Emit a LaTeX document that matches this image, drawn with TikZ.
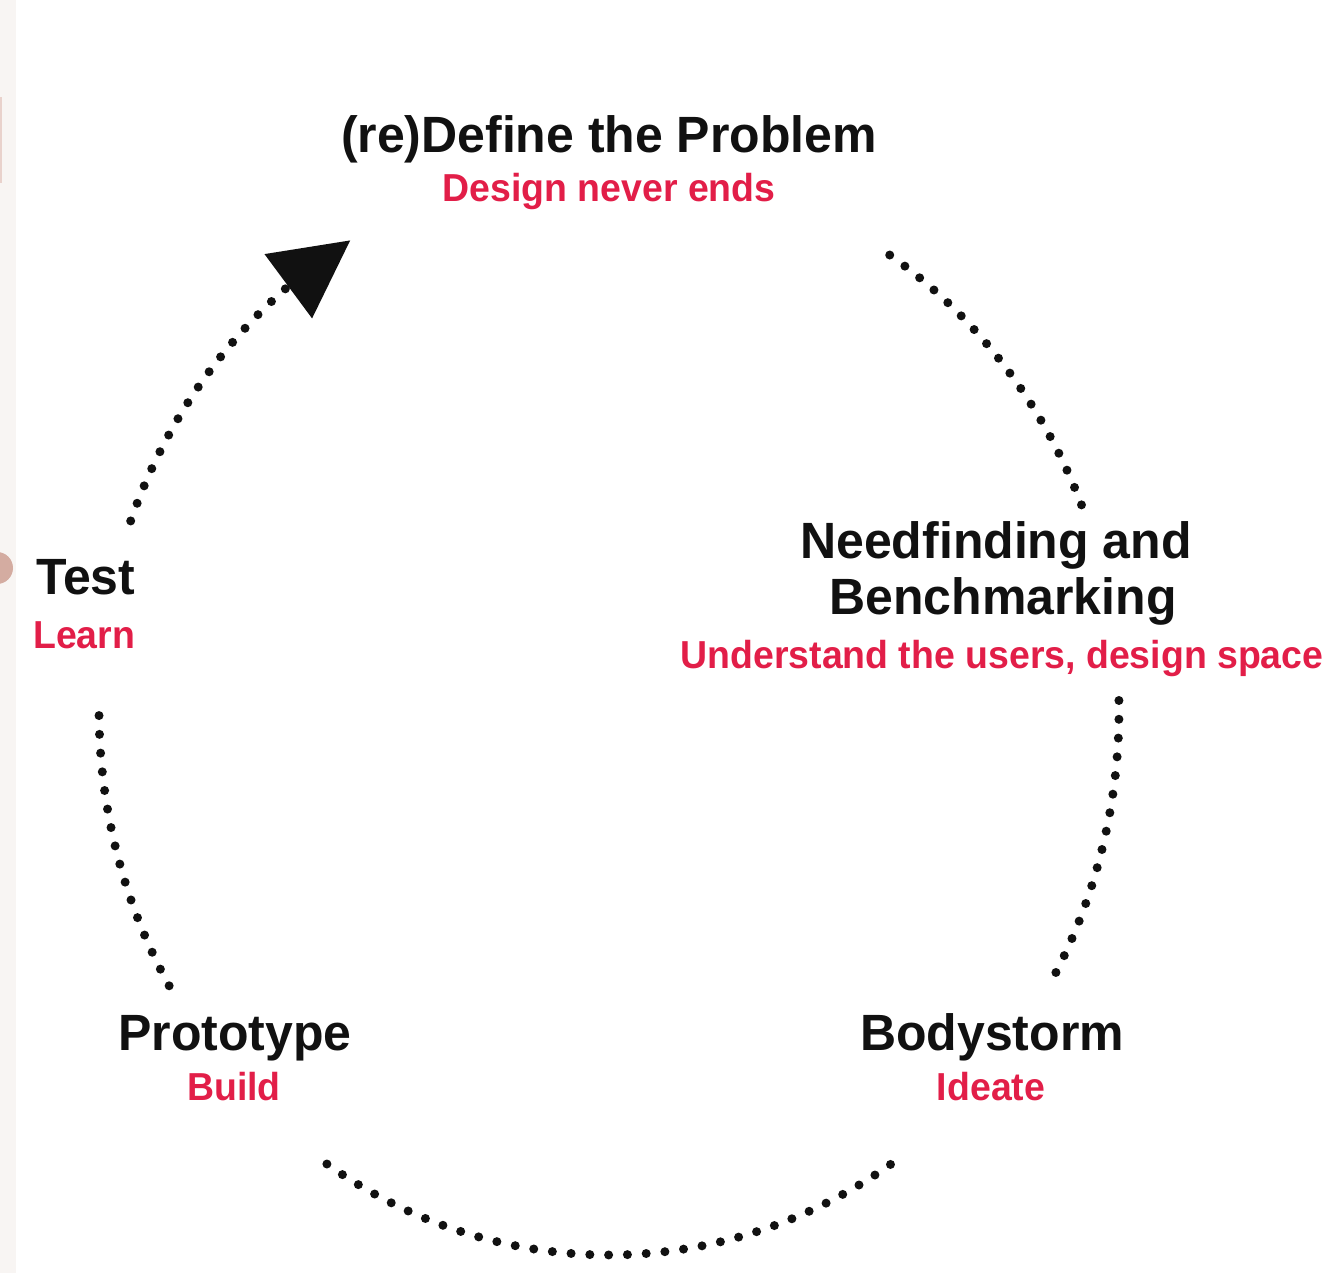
\documentclass[tikz,border=0pt]{standalone}
\usepackage{fontspec}
\setmainfont{Liberation Sans}
\newfontfamily\blkfont{Liberation Sans}[FakeStretch=0.98]
\newfontfamily\redfont{Liberation Sans}[FakeStretch=0.96]
\usetikzlibrary{arrows.meta,bending}
\definecolor{redtxt}{RGB}{226,30,72}
\definecolor{blktxt}{RGB}{17,17,17}
\definecolor{strip}{RGB}{248,245,243}
\definecolor{dotpink}{RGB}{212,172,161}
\definecolor{linepink}{RGB}{233,210,204}
\tikzset{
  head/.style={text=blktxt, font=\blkfont\bfseries\fontsize{51}{56}\selectfont, inner sep=0pt, anchor=base},
  sub/.style={text=redtxt, font=\redfont\bfseries\fontsize{39}{44}\selectfont, inner sep=0pt, anchor=base},
  dots/.style={line width=9pt, line cap=round, dash pattern=on 0pt off 18.8pt, blktxt},
}
\begin{document}
\begin{tikzpicture}[x=1pt,y=-1pt]
\useasboundingbox (0,0) rectangle (1333,1273);
\fill[white] (0,0) rectangle (1333,1273);
\fill[strip] (0,0) rectangle (16,1273);
\fill[linepink] (0,97) rectangle (2,183);
\fill[dotpink] (-3,568) circle[radius=16];

% labels
\node[head] (def) at (609,153) {(re)Define the Problem};
\node[sub]  (defs) at (609,202) {Design never ends};
\node[head] (need1) at (996,558) {Needfinding and};
\node[head] (need2) at (1003,614) {Benchmarking};
\node[sub]  (needs) at (1002,668) {Understand the users, design space};
\node[head] (body) at (992,1050) {Bodystorm};
\node[sub]  (bodys) at (991,1100) {Ideate};
\node[head] (proto) at (235,1050) {Prototype};
\node[sub]  (protos) at (234,1100) {Build};
\node[head, anchor=base west] (test) at (36,594) {Test};
\node[sub, anchor=base west] (tests) at (33,648) {Learn};

% arc start points on the cycle ellipse
\coordinate (c) at (609,710);
\path (c) ++(-56.6:510 and 545) coordinate (a1);
\path (c) ++(-1:510 and 545) coordinate (a2);
\path (c) ++(56.5:510 and 545) coordinate (a3);
\path (c) ++(149.6:510 and 545) coordinate (a4);
\path (c) ++(200.3:510 and 545) coordinate (a5);

\draw[dots] (a1) arc[start angle=-56.6, end angle=-22, x radius=510, y radius=545];
\draw[dots] (a2) arc[start angle=-1, end angle=29.3, x radius=510, y radius=545];
\draw[dots] (a3) arc[start angle=56.5, end angle=124.5, x radius=510, y radius=545];
\draw[dots] (a4) arc[start angle=149.6, end angle=181, x radius=510, y radius=545];
\draw[dots, -{Triangle[length=77pt,width=80pt,line width=0pt,flex]}] (a5) arc[start angle=200.3, end angle=239.5, x radius=510, y radius=545];
\end{tikzpicture}
\end{document}
